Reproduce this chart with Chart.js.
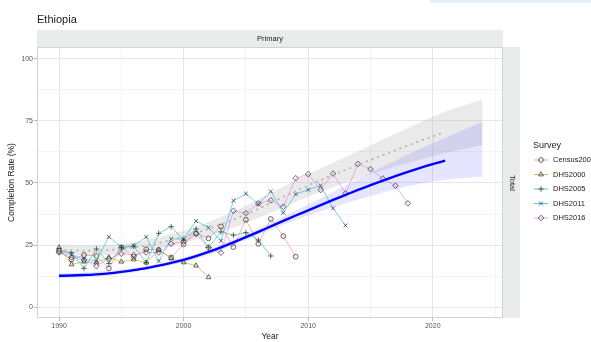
<!DOCTYPE html>
<html>
<head>
<meta charset="utf-8">
<script src="https://cdn.jsdelivr.net/npm/chart.js@4.4.1/dist/chart.umd.min.js"></script>
<style>
  html, body { margin: 0; padding: 0; background: #fff; }
  #wrap { position: relative; width: 591px; height: 342px; overflow: hidden;
          font-family: "Liberation Sans", Arial, sans-serif; }
  #c { position: absolute; left: 0; top: 0; }
  .t { position: absolute; white-space: nowrap; line-height: 1; color: #1a1a1a; }
  .mid { transform: translate(-50%, -50%); }
  .vmid { transform: translate(0, -50%); }
  #topbar { position: absolute; left: 430px; top: 0; width: 161px; height: 3px; background: #e4f0f8; }
</style>
</head>
<body>
<div id="wrap">
  <div id="topbar"></div>
  <canvas id="c" width="591" height="342"></canvas>
  <div class="t vmid" style="left:37px; top:19px; font-size:11px;">Ethiopia</div>
  <div class="t mid" style="left:270px; top:39px; font-size:7.5px;">Primary</div>
  <div class="t" style="left:511.5px; top:182.5px; font-size:7.5px; transform: translate(-50%,-50%) rotate(90deg);">Total</div>
  <div class="t vmid" style="left:533px; top:145px; font-size:9px;">Survey</div>
  <div id="legendText"></div>
</div>
<script>
// ---- years ----
const years = [1990,1991,1992,1993,1994,1995,1996,1997,1998,1999,2000,2001,2002,2003,2004,2005,2006,2007,
               2008,2009,2010,2011,2012,2013,2014,2015,2016,2017,2018,2019,2020,2021,2022,2023,2024];

// ---- survey series (completion rate, %), each starting in 1990 ----
const census2007 = [22.5,19.2,21.0,20.6,15.6,24.0,20.3,23.3,23.0,20.0,25.3,29.7,27.7,32.5,24.2,35.2,25.5,35.5,28.6,20.3];
const dhs2000    = [24.0,17.2,18.3,18.0,20.0,18.3,19.2,17.9,23.0,19.6,18.0,16.7,12.0];
const dhs2005    = [23.0,22.0,15.6,23.4,17.6,23.9,24.5,17.9,29.7,32.4,27.0,31.5,24.0,30.3,29.0,30.0,27.0,20.6];
const dhs2011    = [23.0,21.0,19.5,18.5,28.3,24.3,24.7,28.3,18.5,27.5,27.5,34.7,32.0,26.7,42.9,45.7,41.5,46.6,
                    38.0,45.5,47.3,49.0,39.8,32.9];
const dhs2016    = [22.0,20.0,19.0,16.5,19.5,21.5,21.0,22.0,22.0,25.5,26.3,29.5,24.0,21.9,38.8,37.8,41.8,43.0,
                    40.4,51.9,53.6,47.2,53.8,45.8,57.7,55.6,51.8,48.9,41.8];

const surveyNames = ["Census2007","DHS2000","DHS2005","DHS2011","DHS2016"];

// ---- smoothed trends (1990-2021) and their intervals (1990-2024) ----
const fitBlue   = [12.6,12.7,12.9,13.2,13.6,14.2,14.9,15.7,16.7,17.8,19.0,20.5,22.2,24.1,26.1,28.2,30.3,32.5,
                   34.7,36.9,39.0,41.1,43.2,45.2,47.2,49.1,51.0,52.8,54.5,56.1,57.6,59.0];
const blueLower = [11.6,11.8,12.0,12.3,12.7,13.3,14.0,14.8,15.8,16.9,18.0,19.4,21.0,22.9,24.9,27.0,29.0,31.1,
                   33.2,35.1,36.9,38.6,40.2,41.8,43.3,44.8,46.2,47.5,48.7,49.7,50.6,51.3,51.8,52.2,52.5];
const blueUpper = [13.6,13.7,13.9,14.2,14.6,15.1,15.8,16.6,17.6,18.7,20.0,21.5,23.3,25.3,27.3,29.4,31.7,34.0,
                   36.4,38.9,41.3,43.8,46.4,49.0,51.5,54.0,56.5,59.0,61.5,63.8,66.0,68.2,70.4,72.6,74.7];
const fitGrey   = [23.0,22.8,22.7,22.8,23.0,23.4,24.0,24.8,25.8,27.0,28.3,29.8,31.5,33.3,35.2,37.3,39.6,42.0,
                   44.4,46.7,49.0,51.2,53.3,55.3,57.3,59.3,61.3,63.2,65.1,67.0,68.8,70.5];
const greyLower = [21.0,20.8,20.7,20.8,21.0,21.4,21.9,22.6,23.5,24.6,25.8,27.2,28.7,30.3,32.0,33.8,35.9,38.0,
                   40.2,42.3,44.5,46.5,48.3,50.1,51.8,53.5,55.1,56.6,58.1,59.5,60.8,62.2,63.2,64.2,65.3];
const greyUpper = [25.0,24.8,24.7,24.8,25.0,25.4,26.1,27.0,28.1,29.4,30.8,32.4,34.3,36.3,38.4,40.8,43.3,46.0,
                   48.6,51.1,53.5,55.9,58.3,60.5,62.8,65.1,67.5,69.8,72.1,74.5,76.8,78.8,80.4,82.0,83.5];

// ---- axis breaks ----
const yMajor = [0, 25, 50, 75, 100];
const yMinor = [12.5, 37.5, 62.5, 87.5];
const xMajor = [1990, 2000, 2010, 2020];
const xMinor = [1995, 2005, 2015, 2025];

// ---- styling ----
const seriesColors = ["rgba(248,118,109,0.7)","rgba(163,165,0,0.7)","rgba(0,191,125,0.7)",
                      "rgba(0,176,246,0.7)","rgba(231,107,243,0.7)"];
const seriesShapes = ["circle","triangle","cross","crossRot","rectRot"];
const markerColor = "rgba(35,35,35,0.85)";
const STRIP_FILL = "#eaecec";

const toPts = arr => arr.map((v, i) => ({ x: years[i], y: v }));
const seriesValues = [census2007, dhs2000, dhs2005, dhs2011, dhs2016];

const datasets = [];
// interval ribbons
datasets.push({ data: toPts(greyLower), borderWidth: 0, pointRadius: 0, fill: false, order: 20 });
datasets.push({ data: toPts(greyUpper), borderWidth: 0, pointRadius: 0, fill: '-1',
                backgroundColor: 'rgba(185,185,185,0.3)', order: 20 });
datasets.push({ data: toPts(blueLower), borderWidth: 0, pointRadius: 0, fill: false, order: 19 });
datasets.push({ data: toPts(blueUpper), borderWidth: 0, pointRadius: 0, fill: '-1',
                backgroundColor: 'rgba(0,0,255,0.1)', order: 19 });
// survey lines
seriesValues.forEach((vals, i) => {
  datasets.push({
    label: surveyNames[i], data: toPts(vals), borderColor: seriesColors[i], borderWidth: 0.8,
    pointStyle: seriesShapes[i], pointRadius: seriesShapes[i] === 'circle' ? 2.4 : 2.8,
    pointBorderColor: markerColor, pointBackgroundColor: 'rgba(0,0,0,0)', pointBorderWidth: 0.8,
    fill: false, order: 10 - i
  });
});
// grey dotted trend
datasets.push({ data: toPts(fitGrey), borderColor: '#b8b8b8', borderWidth: 2, borderDash: [0.5, 5.5],
                borderCapStyle: 'round', pointRadius: 0, fill: false, order: 2 });
// blue fitted trend
datasets.push({ data: toPts(fitBlue), borderColor: '#0000ff', borderWidth: 2.4, pointRadius: 0,
                fill: false, order: 1, cubicInterpolationMode: 'monotone' });

const isMajorY = v => yMajor.includes(v);
const isMajorX = v => xMajor.includes(v);

const legendRows = [160, 174.5, 189, 203.5, 218];

const decor = {
  id: 'decor',
  beforeDraw(chart) {
    const { ctx, chartArea: a } = chart;
    ctx.save();
    ctx.fillStyle = STRIP_FILL;
    ctx.fillRect(a.left, 30, a.right - a.left, a.top - 30);
    ctx.fillRect(a.right, a.top, 17, a.bottom - a.top);
    ctx.restore();
  },
  afterDraw(chart) {
    const { ctx, chartArea: a } = chart;
    ctx.save();
    ctx.strokeStyle = '#d2d2d2';
    ctx.lineWidth = 1;
    ctx.strokeRect(a.left + 0.5, a.top + 0.5, a.right - a.left - 1, a.bottom - a.top - 1);
    // legend keys
    legendRows.forEach((y, i) => {
      ctx.strokeStyle = seriesColors[i];
      ctx.lineWidth = 1;
      ctx.beginPath(); ctx.moveTo(534, y); ctx.lineTo(548, y); ctx.stroke();
      ctx.strokeStyle = markerColor;
      ctx.fillStyle = 'rgba(0,0,0,0)';
      ctx.lineWidth = 0.8;
      Chart.helpers.drawPoint(ctx, { pointStyle: seriesShapes[i], rotation: 0,
        radius: seriesShapes[i] === 'circle' ? 2.4 : 2.8, borderWidth: 0.8 }, 541, y);
    });
    ctx.restore();
  }
};

// legend labels
const lt = document.getElementById('legendText');
surveyNames.forEach((n, i) => {
  const d = document.createElement('div');
  d.className = 't vmid';
  d.style.left = '553px';
  d.style.top = legendRows[i] + 'px';
  d.style.fontSize = '7.5px';
  d.textContent = n;
  lt.appendChild(d);
});

new Chart(document.getElementById('c'), {
  type: 'line',
  data: { datasets },
  plugins: [decor],
  options: {
    responsive: false, animation: false, devicePixelRatio: 1,
    layout: { padding: { left: 0, right: 88, top: 47, bottom: 0 } },
    plugins: { legend: { display: false }, tooltip: { enabled: false } },
    elements: { line: { tension: 0 } },
    scales: {
      x: {
        type: 'linear', min: 1988.23, max: 2025.64,
        afterBuildTicks: s => { s.ticks = [...xMajor, ...xMinor].sort((a, b) => a - b).map(v => ({ value: v })); },
        afterFit: s => { s.height = 24; },
        ticks: { autoSkip: false, maxRotation: 0, padding: 1, color: '#555',
                 font: { size: 7, family: '"Liberation Sans", Arial, sans-serif' },
                 callback: v => isMajorX(v) ? String(v) : '' },
        grid: { color: c => isMajorX(c.tick.value) ? '#e6e6e6' : '#f3f3f3', lineWidth: 1,
                tickLength: 3, tickColor: c => isMajorX(c.tick.value) ? '#b8b8b8' : 'rgba(0,0,0,0)' },
        border: { display: false },
        title: { display: true, text: 'Year', color: '#1a1a1a', padding: { top: 0, bottom: 0 },
                 font: { size: 8.5, family: '"Liberation Sans", Arial, sans-serif' } }
      },
      y: {
        type: 'linear', min: -4.4, max: 104.8,
        afterBuildTicks: s => { s.ticks = [...yMajor, ...yMinor].sort((a, b) => a - b).map(v => ({ value: v })); },
        afterFit: s => { s.width = 37; },
        ticks: { autoSkip: false, padding: 1, color: '#555',
                 font: { size: 7, family: '"Liberation Sans", Arial, sans-serif' },
                 callback: v => isMajorY(v) ? String(v) : '' },
        grid: { color: c => isMajorY(c.tick.value) ? '#e6e6e6' : '#f3f3f3', lineWidth: 1,
                tickLength: 3, tickColor: c => isMajorY(c.tick.value) ? '#b8b8b8' : 'rgba(0,0,0,0)' },
        border: { display: false },
        title: { display: true, text: 'Completion Rate (%)', color: '#1a1a1a', padding: { top: 7, bottom: 0 },
                 font: { size: 8.5, family: '"Liberation Sans", Arial, sans-serif' } }
      }
    }
  }
});
</script>
</body>
</html>
